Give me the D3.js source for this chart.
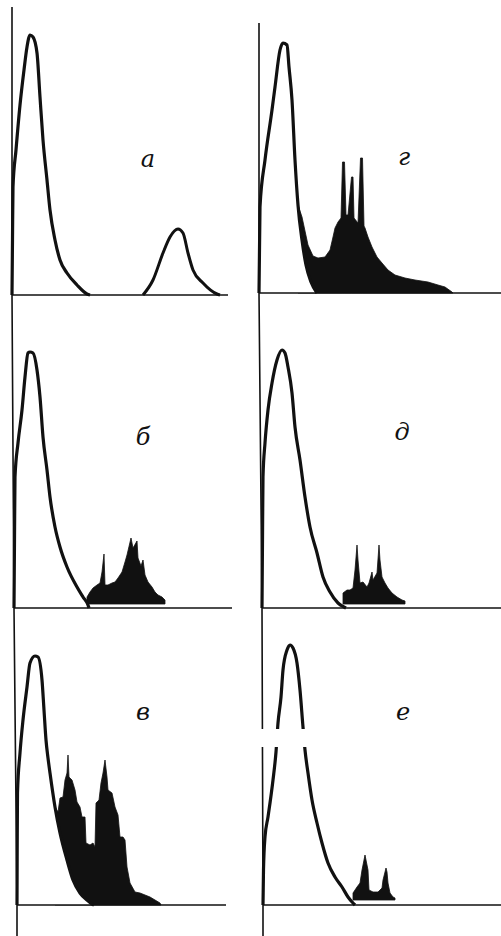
<!DOCTYPE html>
<html>
<head>
<meta charset="utf-8">
<script src="https://cdn.jsdelivr.net/npm/d3@7"></script>
<style>
  body { margin: 0; background: #fff; }
</style>
</head>
<body>
<div id="canvas"></div>
<script>
"use strict"

/* panel letters: left column top to bottom, then right column */
let panelNames = ["а", "б", "в", "г", "д", "е"];

/* main peak of each spectrum, [channel, counts] */
let mainA = [[0,0],[0.25,27.5],[0.5,54],[2,72.5],[4,95],[6,112.5],[7.5,124],[9,130],[10.5,129],[12.5,121],[14,99],[15.5,77.5],[17.5,57.5],[19,42.5],[21.5,27.5],[24,17.5],[27.5,11],[32.5,5],[37.5,0.5],[39,0]];
let mainB = [[0,0],[0.25,34],[0.5,65.5],[2,82.5],[4,99],[5.5,115.5],[7,127.5],[8,128],[9.5,127.5],[11.5,119],[13,105.5],[14.5,85.5],[16.5,69],[18,55.5],[20.5,40.5],[23,30.5],[26.5,20.5],[31.5,10.5],[34.5,5.5],[37,1.5],[37.5,0]];
let mainV = [[0,0],[0.1,27.5],[0.25,56],[1.5,76],[3,92.5],[5,109],[6.5,121],[9,124.5],[10.5,124],[12.5,112.5],[13.5,97.5],[14.5,82.5],[15.5,73.5],[16.5,66],[19,49],[21.5,36],[25,22.5],[28,12.5],[31.5,6],[35,2.5],[37.5,0.5],[38.5,0]];
let mainG = [[0,0],[0.5,43],[3,66.5],[6.5,91.5],[8,103],[10.5,121.5],[12,125],[14,124],[15,113],[16.5,96.5],[18,66.5],[19.5,44],[21.5,26.5],[23.5,14],[26,5.5],[29,0]];
let mainD = [[0,0],[0.25,34],[0.5,65.5],[1.5,82.5],[3,99],[5,112.5],[7.5,124],[10,129],[11.5,127.5],[13,120.5],[15,107.5],[16.5,90.5],[19,74],[21.5,55.5],[24,40.5],[27.5,27.5],[30.5,15.5],[34,8],[38,2.5],[41,0.5],[42,0]];
let mainE = [[0,0],[0.25,17.5],[1,34],[2.5,44],[5,62.5],[6.5,76.5],[7.5,91],[9,104],[10,117.5],[12,127.5],[13.5,130],[15,128.5],[17,121],[18.5,107.5],[20,89],[21,77.5],[22.5,66],[24.5,52.5],[27,41],[29.5,31],[32.5,21],[36,14],[39.5,9],[42.5,4],[45,1],[46,0]];

/* second peak of spectrum а (outline only) */
let peakA2 = [[65.5,0],[70.5,7.5],[75.5,21],[79,29],[83,33],[85.5,31],[88,21],[90.5,12.5],[95.5,6],[102.5,0.5],[104,0]];

/* black filled spectra, [channel, counts] */
let fillB = [[36.5,5.5],[38,8],[39.5,10],[41.5,11.5],[43,12.5],[44,18],[45,27],[45.5,11.5],[47,11.5],[49,12.5],[50.5,13],[52,15],[54,18],[55.5,23],[56.5,26.5],[58.5,35],[59.5,30],[61.5,33.5],[62,25],[63.5,21],[64.5,24],[65.5,16.5],[67,13],[69,10.5],[70.5,8],[72,6.5],[74,5.5],[75.5,4]];
let fillV = [[19,49],[20.5,46.5],[21.5,53.5],[23,54],[24,62.5],[25,66],[25.5,75],[26,64],[27.5,62.5],[29,57.5],[30,51.5],[31.5,49],[32.5,44],[34,44],[34.5,31],[36.5,30],[38,31],[39,29],[39.5,51],[41,52.5],[42,61],[43,66],[44,72.5],[45,64],[45.5,57.5],[47.5,56],[49,49],[50.5,45],[51.5,34],[53,34],[54,32.5],[55,19],[56.5,11],[59,6.5],[61.5,6],[64,5],[66.5,4],[69,2.5],[71.5,1],[72,0]];
let fillG = [[19.5,44],[21.5,38],[24.5,24],[27,18.5],[29.5,17.5],[33,18],[35.5,21.5],[37,28],[38,32.5],[39.5,35.5],[41,37.5],[41.75,65.5],[42.75,65.5],[43.5,39],[44.5,39],[46.25,58],[47,58],[47.5,37.5],[49.5,35],[50.75,67.5],[51.75,67.5],[52.5,33.5],[53,32.5],[54.5,28],[56.5,23],[59,18],[61.5,15],[64.5,11.5],[68,9],[73,7.5],[78,6.5],[84.5,5.5],[89.5,4],[93,3],[96.5,0.5],[97,0]];
let fillD = [[40.5,7.5],[42.5,9],[44,9],[45.5,10],[46.5,19],[47.5,31.5],[48,24],[49,12.5],[50.5,13],[52.5,10.5],[53.5,12.5],[55,18],[55.5,14],[57.5,17.5],[58.5,31.5],[59,24],[60,15.5],[61.5,12.5],[63,10],[65,7.5],[67.5,5.5],[70,4],[71.5,3.5]];
let fillE = [[45,6],[47,9],[48.5,11],[49.5,17.5],[51,25],[51.5,22.5],[52.5,17.5],[53,7.5],[55,6.5],[57.5,6.5],[59.5,8.5],[60,12.5],[61.5,18.5],[62,16.5],[62.5,11],[63.5,6],[65,4],[66,3.5]];

/* lowest level of each filled spectrum (panel order) */
let fillFloor = [0, 2, 0, 0, 2, 2.5];

let mains = [mainA, mainB, mainV, mainG, mainD, mainE];
let fills = [null, fillB, fillV, fillG, fillD, fillE];

/* where the panels sit on the page */
let panels = [
    {x0: 12,  base: 295, end: 228, lx: 148, ly: 167},
    {x0: 14,  base: 608, end: 232, lx: 143, ly: 445},
    {x0: 17,  base: 905, end: 226, lx: 143, ly: 720},
    {x0: 259, base: 293, end: 501, lx: 404, ly: 165},
    {x0: 262, base: 608, end: 501, lx: 402, ly: 440},
    {x0: 263, base: 905, end: 501, lx: 403, ly: 720}
];

let ink = "#111";

let drawing = d3.select("#canvas")
    .append("svg")
    .attr("width", 501)
    .attr("height", 936)
    .style("display", "block");

drawing.append("rect")
    .attr("width", 501)
    .attr("height", 936)
    .attr("fill", "#fff");

panels.forEach(function (p, i) {
    let x = d3.scaleLinear().domain([0, 108]).range([p.x0, p.x0 + 216]);
    let y = d3.scaleLinear().domain([0, 130]).range([p.base, p.base - 260]);

    let g = drawing.append("g");

    /* black spectrum behind the main peak */
    if (fills[i]) {
        let area = d3.area()
            .x(d => x(d[0]))
            .y0(y(fillFloor[i]))
            .y1(d => y(d[1]))
            .curve(d3.curveLinear);
        g.append("path")
            .attr("d", area(fills[i]))
            .attr("fill", ink)
            .attr("stroke", ink)
            .attr("stroke-width", 0.8);
    }

    /* white inside of the main peak */
    let inside = d3.area()
        .x(d => x(d[0]))
        .y0(y(0))
        .y1(d => y(d[1]))
        .curve(d3.curveMonotoneX);
    g.append("path")
        .attr("d", inside(mains[i]))
        .attr("fill", "#fff");

    let line = d3.line()
        .x(d => x(d[0]))
        .y(d => y(d[1]))
        .curve(d3.curveMonotoneX);

    g.append("path")
        .attr("d", line(mains[i]))
        .attr("fill", "none")
        .attr("stroke", ink)
        .attr("stroke-width", 3.2)
        .attr("stroke-linejoin", "round");

    if (i === 0) {
        g.append("path")
            .attr("d", line(peakA2))
            .attr("fill", "none")
            .attr("stroke", ink)
            .attr("stroke-width", 3);
    }

    /* baseline */
    g.append("line")
        .attr("x1", p.x0)
        .attr("y1", p.base)
        .attr("x2", p.end)
        .attr("y2", p.base)
        .attr("stroke", ink)
        .attr("stroke-width", 1.6);

    /* letter */
    g.append("text")
        .attr("x", p.lx)
        .attr("y", p.ly)
        .attr("text-anchor", "middle")
        .attr("font-family", "DejaVu Serif, serif")
        .attr("font-style", "italic")
        .attr("font-size", 24)
        .attr("fill", ink)
        .text(panelNames[i]);
});

/* the two vertical axes run down the whole column */
let axisLine = d3.line();
drawing.append("path")
    .attr("d", axisLine([[12, 7], [12, 295], [14, 608], [17, 905], [17, 936]]))
    .attr("fill", "none")
    .attr("stroke", ink)
    .attr("stroke-width", 1.6);
drawing.append("path")
    .attr("d", axisLine([[259, 23], [259, 293], [262, 608], [263, 905], [263, 936]]))
    .attr("fill", "none")
    .attr("stroke", ink)
    .attr("stroke-width", 1.6);

/* white scratch across panel е, as in the print */
drawing.append("rect")
    .attr("x", 250)
    .attr("y", 729)
    .attr("width", 70)
    .attr("height", 18)
    .attr("fill", "#fff");
</script>
</body>
</html>
